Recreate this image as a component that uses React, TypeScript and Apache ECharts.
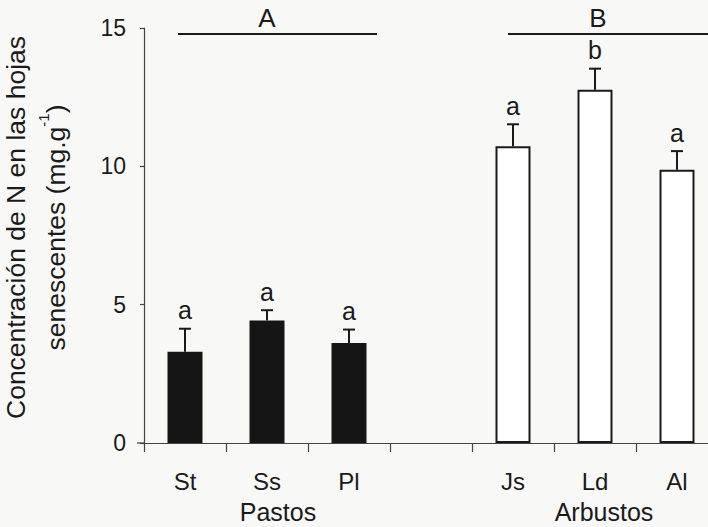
import React, { useEffect, useRef } from 'react';
import * as echarts from 'echarts';

const categories = ['St', 'Ss', 'Pl', '', 'Js', 'Ld', 'Al'];
const values: (number | null)[] = [3.3, 4.43, 3.61, null, 10.73, 12.77, 9.88];
const errors: (number | null)[] = [0.83, 0.37, 0.49, null, 0.79, 0.76, 0.67];
const letters = ['a', 'a', 'a', '', 'a', 'b', 'a'];
const barFills = ['#151515', '#151515', '#151515', '', '#ffffff', '#ffffff', '#ffffff'];
const groupLabels = ['Pastos', 'Arbustos'];
const groupLetters = ['A', 'B'];
const yMin = 0;
const yMax = 15;
const yInterval = 5;

const FONT = '"Liberation Sans", Arial, Helvetica, sans-serif';
const INK = '#1a1a1a';

export default function App() {
  const ref = useRef<HTMLDivElement>(null);

  useEffect(() => {
    if (!ref.current) return;
    const chart = echarts.init(ref.current, null, { renderer: 'svg' });

    const barData = values.map((v, i) =>
      v == null
        ? null
        : {
            value: v,
            itemStyle: {
              color: barFills[i],
              borderColor: INK,
              borderWidth: barFills[i] === '#ffffff' ? 2 : 0,
            },
          }
    );
    const errData = values
      .map((v, i) => (v == null ? null : [i, v, errors[i] as number]))
      .filter((d) => d != null);

    chart.setOption({
      animation: false,
      backgroundColor: '#f8f8f6',
      grid: { left: 144, right: -10, top: 28, bottom: 84, containLabel: false, outerBoundsMode: 'none' },
      xAxis: {
        type: 'category',
        data: categories,
        boundaryGap: true,
        axisLine: { show: true, lineStyle: { color: '#444', width: 1.2 } },
        axisTick: { show: true, length: 9, inside: false, lineStyle: { color: '#444', width: 1.2 } },
        axisLabel: { color: INK, fontSize: 24, fontFamily: FONT, margin: 26 },
        splitLine: { show: false },
      },
      yAxis: {
        type: 'value',
        min: yMin,
        max: yMax,
        interval: yInterval,
        name: 'Concentración de N en las hojas\nsenescentes (mg.g{sup|-1})',
        nameLocation: 'middle',
        nameGap: 68,
        nameRotate: 90,
        nameTextStyle: {
          color: INK,
          fontSize: 26.5,
          fontFamily: FONT,
          lineHeight: 40,
          padding: [0, 0, 0, 16],
          rich: { sup: { fontSize: 15, verticalAlign: 'top', lineHeight: 40, color: INK, fontFamily: FONT, padding: [0, 0, 14, 0] } },
        },
        axisLine: { show: true, lineStyle: { color: '#444', width: 1.2 } },
        axisTick: { show: true, length: 4, lineStyle: { color: '#444', width: 1.2 } },
        axisLabel: { color: INK, fontSize: 23, fontFamily: FONT, margin: 18 },
        splitLine: { show: false },
      },
      series: [
        {
          type: 'bar',
          data: barData,
          barWidth: 35,
          z: 2,
        },
        {
          type: 'custom',
          data: errData,
          encode: { x: 0, y: 1 },
          z: 3,
          renderItem: (params: any, api: any) => {
            const i = api.value(0);
            const v = api.value(1);
            const e = api.value(2);
            const base = api.coord([i, v]);
            const top = api.coord([i, v + e]);
            const x = base[0];
            return {
              type: 'group',
              children: [
                { type: 'line', shape: { x1: x, y1: base[1], x2: x, y2: top[1] }, style: { stroke: INK, lineWidth: 2 } },
                { type: 'line', shape: { x1: x - 6, y1: top[1], x2: x + 6, y2: top[1] }, style: { stroke: INK, lineWidth: 2 } },
                {
                  type: 'text',
                  x: x,
                  y: top[1] - 6,
                  style: { text: letters[i], fontSize: 25, fontFamily: FONT, fill: INK, align: 'center', verticalAlign: 'bottom' },
                },
              ],
            };
          },
        },
      ],
    });

    const px = (i: number) => chart.convertToPixel({ xAxisIndex: 0 }, categories[i]) as number;
    const gx1 = (px(0) + px(2)) / 2;
    const gx2 = (px(4) + px(6)) / 2;
    chart.setOption({
      graphic: [
        { type: 'line', shape: { x1: 137, y1: 443, x2: 144, y2: 443 }, style: { stroke: '#444', lineWidth: 1.2 } },
        { type: 'line', shape: { x1: 178, y1: 34, x2: 377, y2: 34 }, style: { stroke: INK, lineWidth: 2 } },
        { type: 'line', shape: { x1: 508, y1: 34, x2: 720, y2: 34 }, style: { stroke: INK, lineWidth: 2 } },
        { type: 'text', x: gx1, y: 18, style: { text: groupLetters[0], fontSize: 26, fontFamily: FONT, fill: INK, align: 'center', verticalAlign: 'middle' } },
        { type: 'text', x: gx2 + 3, y: 18, style: { text: groupLetters[1], fontSize: 26, fontFamily: FONT, fill: INK, align: 'center', verticalAlign: 'middle' } },
        { type: 'text', x: gx1 + 11, y: 512, style: { text: groupLabels[0], fontSize: 25, fontFamily: FONT, fill: INK, align: 'center', verticalAlign: 'middle' } },
        { type: 'text', x: gx2 + 9, y: 512, style: { text: groupLabels[1], fontSize: 25, fontFamily: FONT, fill: INK, align: 'center', verticalAlign: 'middle' } },
      ],
    });

    return () => chart.dispose();
  }, []);

  return <div ref={ref} style={{ position: 'fixed', left: 0, top: 0, width: 708, height: 527 }} />;
}
